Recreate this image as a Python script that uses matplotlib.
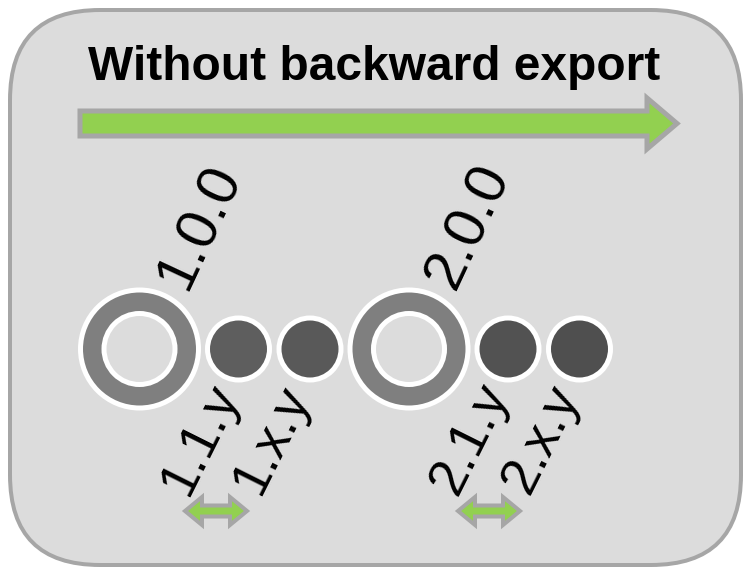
import matplotlib
matplotlib.use("Agg")
import matplotlib.pyplot as plt
from matplotlib.patches import Circle, Polygon, FancyBboxPatch

# ---- content ----
title = "Without backward export"
versions = ["1.0.0", "1.1.y", "1.x.y", "2.0.0", "2.1.y", "2.x.y"]
kinds = ["major", "minor", "minor", "major", "minor", "minor"]
minor_colors = ["#5e5e5e", "#595959", "#525252", "#4f4f4f"]

# ---- layout (pixels) ----
W, H = 744, 568
cx = [139.5, 238.5, 310, 409, 508, 579.5]
cy = 349
PX = 0.72  # points per pixel at dpi 100

fig = plt.figure(figsize=(W / 100, H / 100), dpi=100)
ax = fig.add_axes([0, 0, 1, 1])
ax.set_xlim(0, W)
ax.set_ylim(H, 0)
ax.axis("off")
fig.patch.set_facecolor("white")

GREEN = "#92d050"
GRAY_EDGE = "#a6a6a6"
BG = "#dcdcdc"

box = FancyBboxPatch((10, 10), W - 13, H - 13,
                     boxstyle="round,pad=0,rounding_size=90",
                     facecolor=BG, edgecolor=GRAY_EDGE, linewidth=4 * PX)
ax.add_patch(box)

ax.text(374, 80, title, ha="center", va="baseline", fontsize=34.5,
        fontweight="bold", family="Liberation Sans", color="black")


def arrow_poly(x0, x1, yc, h, Hh, L, double=False):
    if double:
        pts = [(x0, yc), (x0 + L, yc - Hh), (x0 + L, yc - h), (x1 - L, yc - h),
               (x1 - L, yc - Hh), (x1, yc), (x1 - L, yc + Hh), (x1 - L, yc + h),
               (x0 + L, yc + h), (x0 + L, yc + Hh)]
    else:
        pts = [(x0, yc - h), (x1 - L, yc - h), (x1 - L, yc - Hh), (x1, yc),
               (x1 - L, yc + Hh), (x1 - L, yc + h), (x0, yc + h)]
    return pts


ax.add_patch(Polygon(arrow_poly(80, 677, 123.5, 12.5, 25.5, 30),
                     closed=True, facecolor=GREEN, edgecolor=GRAY_EDGE,
                     linewidth=5 * PX, joinstyle="miter"))

mi = 0
for i, (v, k) in enumerate(zip(versions, kinds)):
    x = cx[i]
    if k == "major":
        ax.add_patch(Circle((x, cy), 59, facecolor="#7f7f7f", edgecolor="white",
                            linewidth=5 * PX))
        ax.add_patch(Circle((x, cy), 35.5, facecolor=BG, edgecolor="white",
                            linewidth=5 * PX))
        ax.text(x + 73.5, 233, v, rotation=65, rotation_mode="anchor",
                ha="center", va="baseline", fontsize=42,
                family="Liberation Sans", color="black")
    else:
        ax.add_patch(Circle((x, cy), 31, facecolor=minor_colors[mi],
                            edgecolor="white", linewidth=5 * PX))
        mi += 1
        ax.text(x - 26, 445, v, rotation=63.5, rotation_mode="anchor",
                ha="center", va="baseline", fontsize=38.5,
                family="Liberation Sans", color="black")

for x0 in (cx[1] - 53.5, cx[4] - 50):
    ax.add_patch(Polygon(arrow_poly(x0, x0 + 62, 511, 5.5, 14, 17, double=True),
                         closed=True, facecolor=GREEN, edgecolor=GRAY_EDGE,
                         linewidth=4 * PX, joinstyle="miter"))

fig.savefig("out.png", dpi=100, facecolor="white")
